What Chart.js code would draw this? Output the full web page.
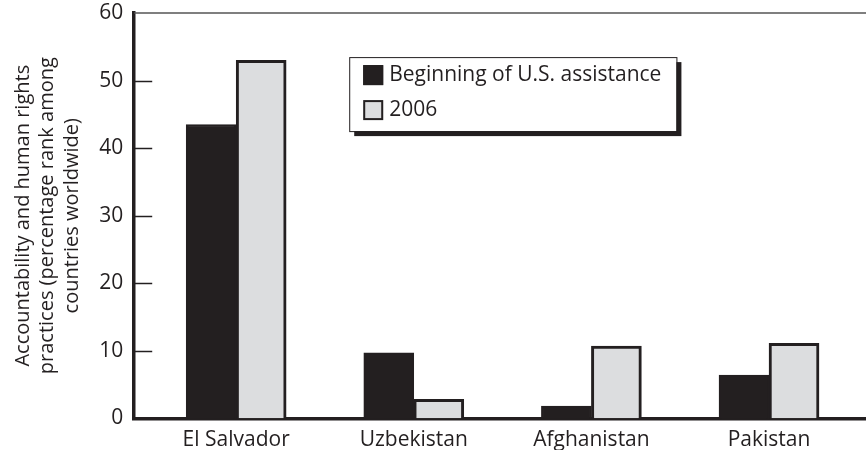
<!DOCTYPE html>
<html>
<head>
<meta charset="utf-8">
<script src="https://cdn.jsdelivr.net/npm/chart.js@4"></script>
<style>
  html, body { margin: 0; padding: 0; background: #fff; }
  #wrap { width: 866px; height: 450px; position: relative; }
</style>
</head>
<body>
<div id="wrap"><canvas id="rankChart"></canvas></div>
<script>
const categories = ["El Salvador", "Uzbekistan", "Afghanistan", "Pakistan"];
const beginning = [43.5, 9.7, 1.8, 6.4];
const year2006 = [53.0, 2.8, 10.7, 11.1];
const seriesNames = ["Beginning of U.S. assistance", "2006"];
const yTicks = [0, 10, 20, 30, 40, 50, 60];
const yTitle = ["Accountability and human rights", "practices (percentage rank among", "countries worldwide)"];

const ink = "#231f20";
const grey = "#dcdddf";

Chart.defaults.font.family = "'Open Sans', sans-serif";
Chart.defaults.color = ink;

// inward y ticks, thin top frame line and the boxed legend with its shadow
const framePlugin = {
    id: "frame",
    afterDatasetsDraw(chart) {
        const ctx = chart.ctx;
        const area = chart.chartArea;
        const y = chart.scales.y;
        ctx.save();
        ctx.strokeStyle = ink;
        ctx.lineWidth = 1.5;
        y.ticks.forEach(t => {
            if (t.value === 0 || t.value === 60) return;
            const py = Math.round(y.getPixelForValue(t.value)) + 0.5;
            ctx.beginPath();
            ctx.moveTo(area.left, py);
            ctx.lineTo(area.left + 18, py);
            ctx.stroke();
        });
        ctx.strokeStyle = "#555";
        ctx.beginPath();
        ctx.moveTo(area.left, area.top);
        ctx.lineTo(area.right, area.top);
        ctx.stroke();
        ctx.restore();
    },
    afterDraw(chart) {
        const ctx = chart.ctx;
        const area = chart.chartArea;
        const x0 = area.left + 215;
        const y0 = area.top + 44;
        ctx.save();
        ctx.font = "21px 'Open Sans', sans-serif";
        let textW = 0;
        chart.data.datasets.forEach(ds => { textW = Math.max(textW, ctx.measureText(ds.label).width); });
        const w = 14 + 20 + 6 + textW + 15;
        const h = 74;
        ctx.fillStyle = ink;
        ctx.fillRect(x0 + 5, y0 + 5, w, h);
        ctx.fillStyle = "#fff";
        ctx.fillRect(x0, y0, w, h);
        ctx.strokeStyle = ink;
        ctx.lineWidth = 1;
        ctx.strokeRect(x0 + 0.5, y0 + 0.5, w, h);
        chart.data.datasets.forEach((ds, i) => {
            const sy = y0 + 8 + i * 35;
            ctx.fillStyle = ds.backgroundColor;
            ctx.fillRect(x0 + 14, sy, 20, 20);
            ctx.strokeStyle = ink;
            ctx.lineWidth = 2;
            ctx.strokeRect(x0 + 15, sy + 1, 18, 18);
            ctx.fillStyle = ink;
            ctx.textBaseline = "middle";
            ctx.fillText(ds.label, x0 + 40, sy + 10);
        });
        ctx.restore();
    }
};

function toPoints(values) {
    return values.map((v, i) => ({ x: i, y: v }));
}

const ctx = document.getElementById("rankChart").getContext("2d");
new Chart(ctx, {
    type: "bar",
    data: {
        datasets: [{
            label: seriesNames[0],
            data: toPoints(beginning),
            backgroundColor: ink,
            borderColor: ink,
            borderWidth: 2
        }, {
            label: seriesNames[1],
            data: toPoints(year2006),
            backgroundColor: grey,
            borderColor: ink,
            borderWidth: 3
        }]
    },
    options: {
        responsive: true,
        maintainAspectRatio: false,
        animation: false,
        layout: { padding: { left: 2, right: 0, top: 0, bottom: -12.5 } },
        datasets: { bar: { barThickness: 50 } },
        plugins: {
            legend: { display: false },
            tooltip: { enabled: false }
        },
        scales: {
            x: {
                type: "linear",
                offset: false,
                min: -0.574,
                max: 3.546,
                grid: { display: false, drawTicks: false },
                border: { display: true, width: 3.5, color: ink },
                afterBuildTicks: scale => {
                    scale.ticks = categories.map((c, i) => ({ value: i }));
                },
                ticks: {
                    autoSkip: false,
                    maxRotation: 0,
                    padding: 9.5,
                    font: { size: 21 },
                    color: ink,
                    callback: v => categories[v]
                }
            },
            y: {
                min: 0,
                max: 60,
                grid: { display: false, drawTicks: false },
                border: { display: true, width: 3.5, color: ink },
                afterBuildTicks: scale => {
                    scale.ticks = yTicks.map(v => ({ value: v }));
                },
                ticks: {
                    padding: 11,
                    font: { size: 21, lineHeight: 0.2 },
                    color: ink
                },
                title: {
                    display: true,
                    text: yTitle,
                    font: { size: 20, lineHeight: 1.22 },
                    color: ink,
                    padding: { top: 9, bottom: 4 }
                }
            }
        }
    },
    plugins: [framePlugin]
});
</script>
</body>
</html>
